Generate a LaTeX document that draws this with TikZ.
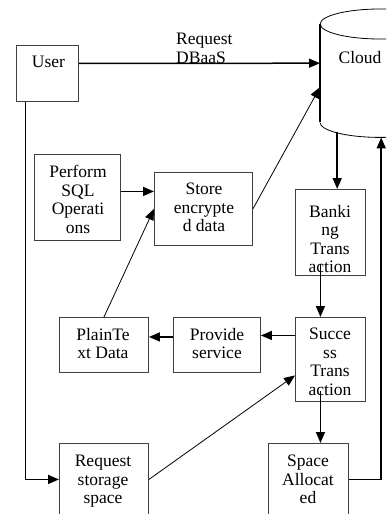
\documentclass[tikz,border=0pt]{standalone}
\usepackage{fontspec}
\setmainfont{Liberation Serif}
\usetikzlibrary{arrows.meta,calc}
\begin{document}
\begin{tikzpicture}[x=1pt,y=-1pt,
 box/.style={draw=black!75,line width=0.9pt,inner sep=0pt,anchor=north west},
 txt/.style={font=\fontsize{17.5}{18.5}\selectfont,align=center,inner sep=0pt,anchor=north},
 arr/.style={line width=1.5pt,-{Triangle[length=11pt,width=9pt]}},
 thinarr/.style={line width=0.8pt,-{Triangle[length=11pt,width=9pt]}}]
\useasboundingbox[fill=white] (0,0) rectangle (386,514);
\begin{scope}
\clip (0,0) rectangle (386,514);
% cloud cylinder
\node[inner sep=0pt,minimum width=120pt,minimum height=98pt,anchor=north west] (cloud) at (320,24) {};
\draw[line width=0.8pt] (cloud.north) ellipse [x radius=60pt, y radius=15pt];
\draw[line width=1.5pt] (cloud.north west) -- (cloud.south west);
\draw[line width=0.8pt] (cloud.south west) arc[start angle=180,end angle=360,x radius=60pt,y radius=15pt];
\node[txt,anchor=base] (tcloud) at (360,63) {Cloud};
% boxes
\node[box,minimum width=62pt,minimum height=56pt] (user) at (16,45) {};
\node[box,minimum width=86pt,minimum height=86pt] (perf) at (34,154) {};
\node[box,minimum width=98pt,minimum height=73pt] (store) at (154,172) {};
\node[box,minimum width=70pt,minimum height=86pt] (bank) at (295,189) {};
\node[box,minimum width=89pt,minimum height=55pt] (plain) at (59,317) {};
\node[box,minimum width=87pt,minimum height=55pt] (prov) at (173,317) {};
\node[box,minimum width=70pt,minimum height=84pt] (succ) at (295,317) {};
\node[box,minimum width=80pt,minimum height=87pt] (space) at (268,443) {};
\node[box,minimum width=89pt,minimum height=87pt] (reqs) at (59,443) {};
% texts
\node[txt,anchor=base] (tuser) at (48.5,67) {User};
\node[txt,align=left,anchor=north west] (tdbaas) at (176,33) {Request\\DBaaS};
\node[txt] (tperf) at (78,165) {Perform\\SQL\\Operati\\ons};
\node[txt] (tstore) at (204,183) {Store\\encrypte\\d data};
\node[txt] (tbank) at (330,205) {Banki\\ng\\Trans\\action};
\node[txt] (tplain) at (103,328) {PlainTe\\xt Data};
\node[txt] (tprov) at (217,328) {Provide\\service};
\node[txt] (tsucc) at (330,328) {Succe\\ss\\Trans\\action};
\node[txt] (tspace) at (308,455) {Space\\Allocat\\ed};
\node[txt] (treqs) at (103,455) {Request\\storage\\space};
% connectors
\draw[arr] ([yshift=10pt]user.east) -- ([yshift=10pt]cloud.west);
\draw[thinarr] (store.east) -- ([yshift=-14pt]cloud.west);
\coordinate (pa) at ([yshift=6pt]perf.east);
\draw[arr] (pa) -- (pa -| store.west);
\draw[thinarr] (plain.north) -- (store.west);
\coordinate (cb) at ([xshift=-43pt,yshift=-10pt]cloud.south);
\draw[arr] (cb) -- (cb |- bank.north);
\coordinate (bs) at ([xshift=-10pt,yshift=12pt]bank.south);
\draw[arr] (bs) -- (bs |- succ.north);
\coordinate (ss) at ([xshift=-10pt,yshift=11pt]succ.south);
\draw[arr] (ss) -- (ss |- space.north);
\coordinate (sp) at ([yshift=24pt]succ.west);
\draw[arr] (sp) -- (sp -| prov.east);
\coordinate (pp) at ([yshift=8pt]prov.west);
\draw[arr] (pp) -- (pp -| plain.east);
\coordinate (us) at ([xshift=-22pt]user.south);
\coordinate (rq) at ([yshift=7.5pt]reqs.west);
\draw[arr] (us) |- (rq);
\draw[thinarr] ([yshift=7.5pt]reqs.east) -- ([yshift=-16pt]succ.west);
\coordinate (sc) at ([yshift=7.5pt]space.east);
\coordinate (cr) at ([xshift=1pt,yshift=-15pt]cloud.south);
\draw[arr] (sc) -| (cr);
\end{scope}
\end{tikzpicture}
\end{document}
